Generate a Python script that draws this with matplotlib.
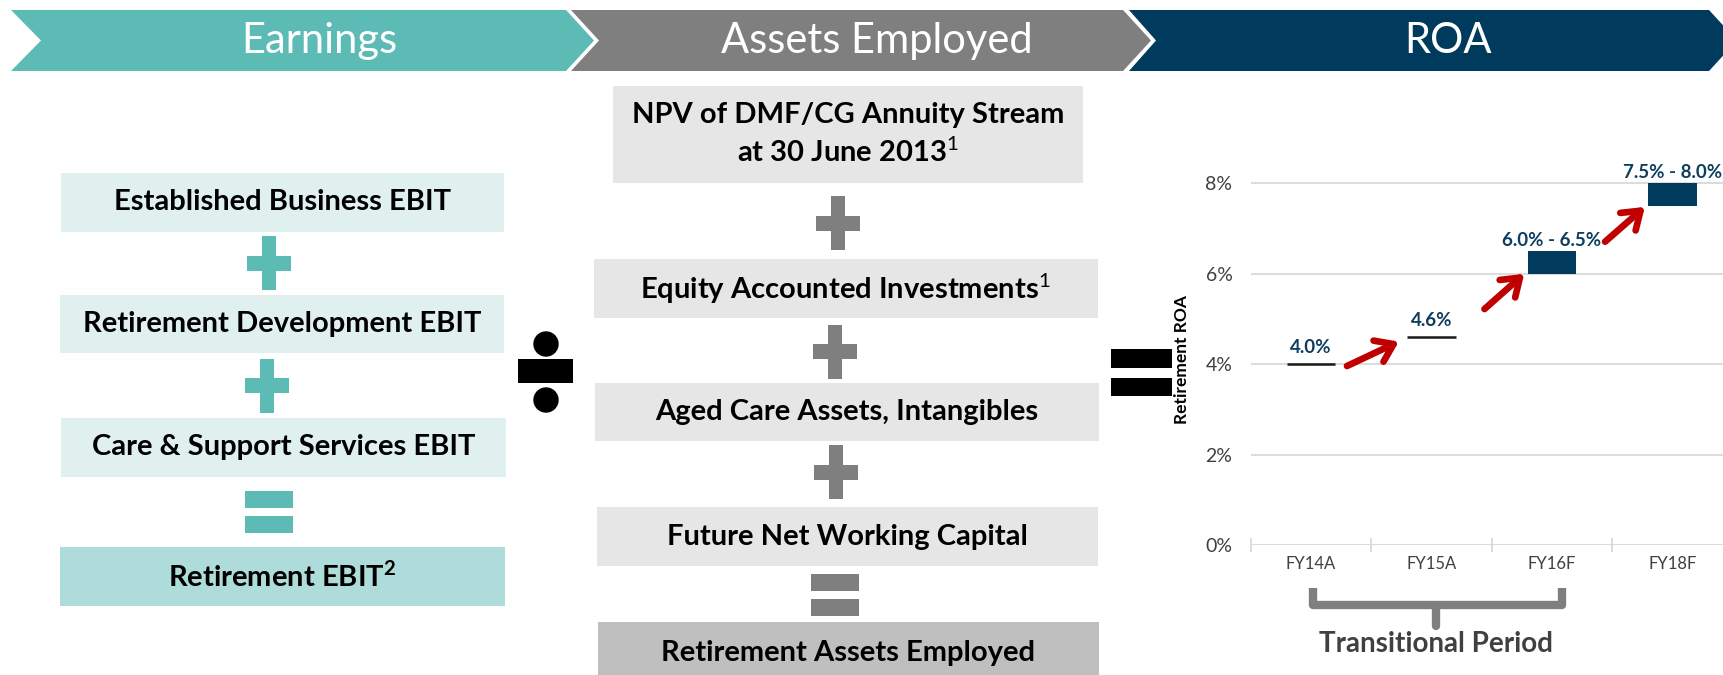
import numpy as np
import matplotlib
matplotlib.use("Agg")
import matplotlib.pyplot as plt
from matplotlib.patches import Polygon, Rectangle, Circle

plt.rcParams['font.family'] = ['Lato', 'DejaVu Sans']
plt.rcParams['mathtext.fontset'] = 'custom'
plt.rcParams['mathtext.rm'] = 'Lato'
plt.rcParams['mathtext.bf'] = 'Lato:bold'

# --- content -------------------------------------------------------------
headers = ['Earnings', 'Assets Employed', 'ROA']
earnings_items = ['Established Business EBIT',
                  'Retirement Development EBIT',
                  'Care & Support Services EBIT',
                  r'Retirement EBIT$^{\mathbf{2}}$']
assets_items = ['NPV of DMF/CG Annuity Stream\nat 30 June 2013$^{1}$',
                'Equity Accounted Investments$^{1}$',
                'Aged Care Assets, Intangibles',
                'Future Net Working Capital',
                'Retirement Assets Employed']

years = ['FY14A', 'FY15A', 'FY16F', 'FY18F']
roa_low = [4.0, 4.6, 6.0, 7.5]
roa_high = [4.0, 4.6, 6.5, 8.0]
roa_labels = ['4.0%', '4.6%', '6.0% - 6.5%', '7.5% - 8.0%']
y_ticks = [0, 2, 4, 6, 8]

# colours
TEAL, TEAL_LIGHT, TEAL_MID = '#5DBBB6', '#DFF0EF', '#ADDCDA'
GREY, GREY_LIGHT, GREY_MID = '#7F7F7F', '#E6E6E6', '#BFBFBF'
NAVY = '#003A5C'
RED = '#C00000'
TXT = '#404040'

W, H = 1723, 675
fig = plt.figure(figsize=(W / 100, H / 100), dpi=100)

# background canvas in pixel coordinates (y downwards)
bg = fig.add_axes([0, 0, 1, 1])
bg.set_xlim(0, W)
bg.set_ylim(H, 0)
bg.axis('off')

# --- header chevrons -----------------------------------------------------
chev = [(11, 566, 41), (571, 1123, 599), (1129, 1709, 1156)]
chev_col = [TEAL, GREY, NAVY]
for (x0, x1, notch), col, label in zip(chev, chev_col, headers):
    pts = [(x0, 10), (x1, 10), (x1 + 28, 40.5), (x1, 71), (x0, 71), (notch, 40.5)]
    bg.add_patch(Polygon(pts, closed=True, color=col, lw=0))
    bg.text((notch + x1 + 28) / 2 + 2, 41, label, color='white', fontsize=30,
            fontweight='normal', ha='center', va='center')


def box(x0, y0, x1, y1, col, text, ty=None):
    bg.add_patch(Rectangle((x0, y0), x1 - x0, y1 - y0, color=col, lw=0))
    bg.text((x0 + x1) / 2, (y0 + y1) / 2 if ty is None else ty, text,
            fontsize=21, fontweight='bold', color='black',
            ha='center', va='center', linespacing=1.38)


def plus(cx, cy, col):
    bg.add_patch(Rectangle((cx - 7, cy - 27), 14, 54, color=col, lw=0))
    bg.add_patch(Rectangle((cx - 22, cy - 7.5), 44, 15, color=col, lw=0))


def equals(cx, cy, col, w=48.5, t=16.5, gap=8.5):
    bg.add_patch(Rectangle((cx - w / 2, cy - gap / 2 - t), w, t, color=col, lw=0))
    bg.add_patch(Rectangle((cx - w / 2, cy + gap / 2), w, t, color=col, lw=0))


# --- Earnings column -----------------------------------------------------
left_boxes = [(60.5, 173.3, 504, 231.7), (59.5, 295, 504, 353.3),
              (60.5, 418.3, 506, 476.7), (60, 546.7, 504.5, 605.7)]
for i, (b, t) in enumerate(zip(left_boxes, earnings_items)):
    box(*b, TEAL_LIGHT if i < 3 else TEAL_MID, t)
plus(269, 263.3, TEAL)
plus(267, 385.7, TEAL)
equals(269, 512, TEAL)

# --- Assets Employed column ----------------------------------------------
mid_boxes = [(613, 86, 1082.5, 182.7), (594, 259, 1097.5, 317.7),
             (595, 382.7, 1098.5, 440.7), (597, 507.3, 1098, 565.7),
             (598, 622.3, 1098.5, 690)]
for i, (b, t) in enumerate(zip(mid_boxes, assets_items)):
    box(*b, GREY_LIGHT if i < 4 else GREY_MID, t, ty=653 if i == 4 else None)
plus(837.5, 223, GREY)
plus(835, 351.7, GREY)
plus(835.8, 472, GREY)
equals(835, 595, GREY)

# --- operators between columns --------------------------------------------
bg.add_patch(Circle((546, 344), 12.7, color='black', lw=0))
bg.add_patch(Circle((546, 400), 12.7, color='black', lw=0))
bg.add_patch(Rectangle((518.3, 359), 55, 24.3, color='black', lw=0))
equals(1141.2, 372.6, 'black', w=61, t=18.5, gap=10)

# --- ROA chart -------------------------------------------------------------
px_per_pct = 45.2
ax_left, ax_zero, cat_w = 1250.5, 545, 120.6
ax = fig.add_axes([ax_left / W, (H - ax_zero) / H, 4 * cat_w / W,
                   9 * px_per_pct / H])
ax.set_facecolor('none')
ax.set_xlim(-0.5, 3.5)
ax.set_ylim(0, 9)
x = np.arange(len(years))

for i, (lo, hi, lab) in enumerate(zip(roa_low, roa_high, roa_labels)):
    if hi == lo:
        ax.hlines(lo, i - 0.2, i + 0.2, color='#1A1A1A', lw=1.8, zorder=3)
        off = 8
    else:
        ax.bar(i, hi - lo, bottom=lo, width=0.4, color=NAVY, zorder=3)
        off = 4
    ax.annotate(lab, (i, hi), xytext=(0, off), textcoords='offset points',
                ha='center', va='baseline', fontsize=13.5, fontweight='bold',
                color='#0E3D5E')

# growth arrows between the points
arrow_from = [(0.30, 3.96), (1.44, 5.22), (2.44, 6.71)]
arrow_to = [(0.73, 4.50), (1.77, 6.00), (2.77, 7.48)]
for a, b in zip(arrow_from, arrow_to):
    ax.annotate('', xy=b, xytext=a,
                arrowprops=dict(arrowstyle='->,head_length=0.6,head_width=0.42',
                                color=RED, lw=4.8, mutation_scale=20,
                                shrinkA=0, shrinkB=0))

ax.set_yticks(y_ticks)
ax.set_yticklabels([f'{v}%' for v in y_ticks])
ax.set_xticks(x)
ax.set_xticklabels(years)
ax.set_xticks(np.arange(-0.5, 4, 1), minor=True)
ax.tick_params(axis='y', length=0, pad=13, labelsize=14, labelcolor=TXT)
ax.tick_params(axis='x', which='major', length=0, pad=8, labelsize=12,
               labelcolor=TXT)
ax.tick_params(axis='x', which='minor', direction='inout', length=10,
               width=1.3, color='#D9D9D9')
ax.grid(axis='y', color='#D9D9D9', lw=1.3)
ax.set_axisbelow(True)
for s in ax.spines.values():
    s.set_visible(False)

ax.set_ylabel('Retirement ROA', fontsize=12.5, fontweight='bold', color='black')
ax.yaxis.set_label_coords(-(ax_left - 1190) / (4 * cat_w), 0.455)

# transitional period bracket under FY14A..FY16F
ax.plot([0.02, 0.02, 2.08, 2.08], [-0.96, -1.33, -1.33, -0.96], color=GREY,
        lw=6, solid_joinstyle='round', solid_capstyle='butt', clip_on=False)
ax.plot([1.04, 1.04], [-1.33, -1.8], color=GREY, lw=6,
        solid_capstyle='round', clip_on=False)
ax.text(1.04, -2.2, 'Transitional Period', ha='center', va='center',
        fontsize=20, fontweight='bold', color=TXT)

fig.savefig('out.png', dpi=100)
